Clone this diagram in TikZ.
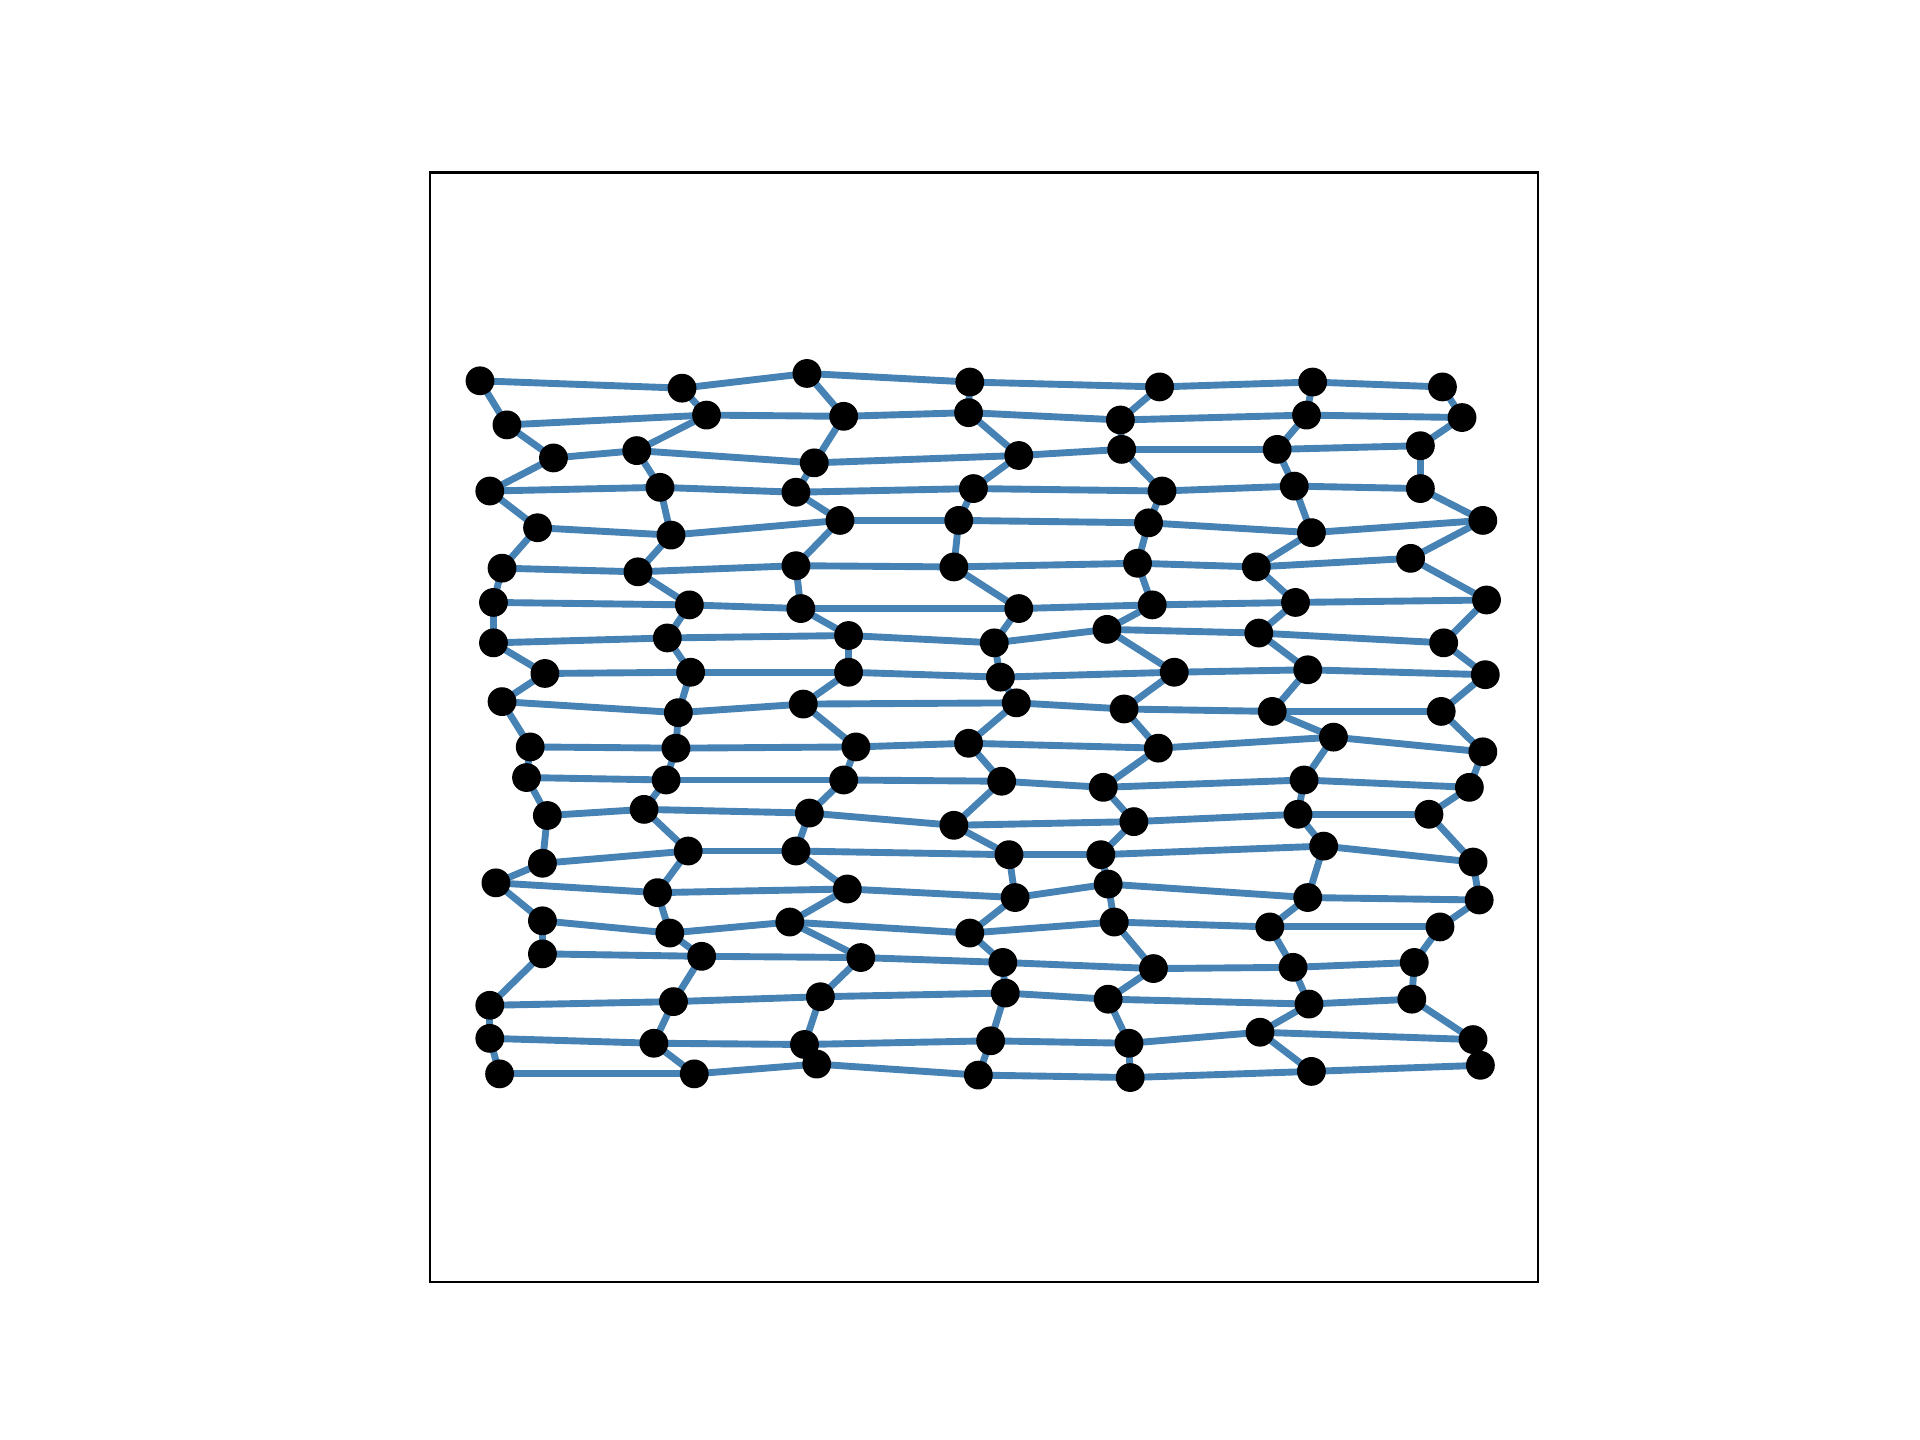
\documentclass[tikz,border=0pt]{standalone}
\usetikzlibrary{backgrounds}
\definecolor{edgeblue}{RGB}{70,130,180}
\tikzset{
  vtx/.style={circle,fill=black,draw=none,inner sep=0pt,minimum size=0.235cm},
  edge/.style={draw=edgeblue,line width=1.6pt},
  frame/.style={draw=black,line width=0.6pt}
}
\begin{document}
\begin{tikzpicture}[x=0.01cm,y=-0.01cm]
\useasboundingbox (0,0) rectangle (1568,1176);
\draw[frame] (351,141) rectangle (1256,1047);
\foreach \c/\x/\y in {1/392/311,2/557/317,3/659/305,4/792/312,5/947/316,6/1072/312,7/1178/316} \node[vtx] (n1-\c) at (\x,\y) {};
\foreach \c/\x/\y in {1/414/347,2/577/339,3/689/340,4/791/337,5/915/343,6/1067/339,7/1194/341} \node[vtx] (n2-\c) at (\x,\y) {};
\foreach \c/\x/\y in {1/452/374,2/520/368,3/665/378,4/832/372,5/916/367,6/1043/367,7/1160/364} \node[vtx] (n3-\c) at (\x,\y) {};
\foreach \c/\x/\y in {1/400/401,2/539/398,3/650/402,4/795/399,5/949/401,6/1057/397,7/1160/399} \node[vtx] (n4-\c) at (\x,\y) {};
\foreach \c/\x/\y in {1/439/431,2/548/437,3/686/425,4/783/425,5/938/427,6/1071/435,7/1211/425} \node[vtx] (n5-\c) at (\x,\y) {};
\foreach \c/\x/\y in {1/410/464,2/521/467,3/650/462,4/779/463,5/929/460,6/1026/463,7/1152/456} \node[vtx] (n6-\c) at (\x,\y) {};
\foreach \c/\x/\y in {1/403/492,2/563/494,3/654/497,4/832/497,5/941/494,6/1058/492,7/1214/490} \node[vtx] (n7-\c) at (\x,\y) {};
\foreach \c/\x/\y in {1/403/525,2/545/521,3/693/519,4/812/525,5/904/514,6/1028/517,7/1179/525} \node[vtx] (n8-\c) at (\x,\y) {};
\foreach \c/\x/\y in {1/445/550,2/564/549,3/693/549,4/817/553,5/959/549,6/1068/547,7/1213/551} \node[vtx] (n9-\c) at (\x,\y) {};
\foreach \c/\x/\y in {1/410/573,2/554/582,3/656/575,4/830/574,5/918/579,6/1039/581,7/1177/581} \node[vtx] (n10-\c) at (\x,\y) {};
\foreach \c/\x/\y in {1/433/610,2/552/611,3/699/610,4/791/607,5/946/611,6/1089/602,7/1211/614} \node[vtx] (n11-\c) at (\x,\y) {};
\foreach \c/\x/\y in {1/430/635,2/544/637,3/689/637,4/818/638,5/901/643,6/1065/637,7/1200/643} \node[vtx] (n12-\c) at (\x,\y) {};
\foreach \c/\x/\y in {1/447/666,2/526/661,3/661/664,4/779/674,5/926/671,6/1060/665,7/1167/665} \node[vtx] (n13-\c) at (\x,\y) {};
\foreach \c/\x/\y in {1/443/705,2/562/695,3/650/695,4/824/698,5/899/698,6/1081/691,7/1203/704} \node[vtx] (n14-\c) at (\x,\y) {};
\foreach \c/\x/\y in {1/405/721,2/537/729,3/692/726,4/829/733,5/905/722,6/1068/733,7/1208/735} \node[vtx] (n15-\c) at (\x,\y) {};
\foreach \c/\x/\y in {1/443/752,2/547/762,3/645/753,4/792/762,5/910/753,6/1037/757,7/1176/757} \node[vtx] (n16-\c) at (\x,\y) {};
\foreach \c/\x/\y in {1/443/779,2/573/781,3/703/782,4/819/786,5/942/791,6/1056/790,7/1155/786} \node[vtx] (n17-\c) at (\x,\y) {};
\foreach \c/\x/\y in {1/400/821,2/550/818,3/670/814,4/821/811,5/905/816,6/1069/820,7/1153/816} \node[vtx] (n18-\c) at (\x,\y) {};
\foreach \c/\x/\y in {1/400/848,2/534/852,3/657/853,4/809/850,5/922/852,6/1029/843,7/1203/849} \node[vtx] (n19-\c) at (\x,\y) {};
\foreach \c/\x/\y in {1/408/877,2/567/877,3/667/869,4/799/878,5/923/880,6/1071/875,7/1209/870} \node[vtx] (n20-\c) at (\x,\y) {};
\begin{scope}[on background layer]
\foreach \r in {1,...,20}{
  \foreach \c in {1,...,6}{
    \pgfmathtruncatemacro{\d}{\c+1}
    \draw[edge] (n\r-\c.center) -- (n\r-\d.center);
  }
}
\foreach \r in {1,...,19}{
  \pgfmathtruncatemacro{\s}{\r+1}
  \foreach \c in {1,...,7}{
    \draw[edge] (n\r-\c.center) -- (n\s-\c.center);
  }
}
\end{scope}
\end{tikzpicture}
\end{document}
